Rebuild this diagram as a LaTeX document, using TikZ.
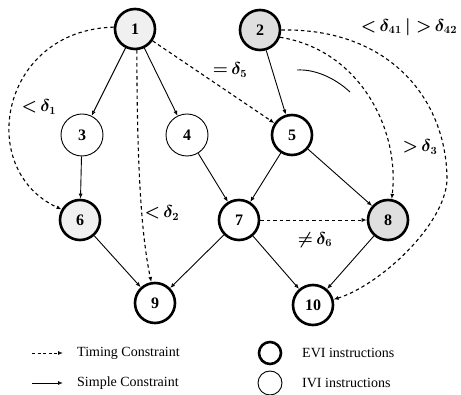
\documentclass[tikz,border=0pt]{standalone}
\usepackage{fontspec}
\setmainfont{Liberation Serif}
\usetikzlibrary{arrows.meta}
\begin{document}
\begin{tikzpicture}[x=1pt,y=-1pt,
  tip/.tip={Latex[open,length=5pt,width=4pt]},
  evi/.style={circle,draw,line width=2.6pt,minimum size=40pt,inner sep=0pt,font=\fontsize{16}{18}\selectfont\bfseries},
  ivi/.style={circle,draw,line width=0.9pt,minimum size=42pt,inner sep=0pt,font=\fontsize{16}{18}\selectfont\bfseries},
  sc/.style={-tip,line width=0.9pt},
  tc/.style={-tip,line width=1.1pt,dash pattern=on 3.5pt off 3pt},
  lbl/.style={font=\fontsize{16}{18}\selectfont\boldmath,inner sep=1pt},
  leg/.style={font=\fontsize{14}{16}\selectfont,anchor=west,inner sep=0pt}]
\useasboundingbox (0,0) rectangle (461,395);
% nodes
\node[evi,fill=gray!12] (n1) at (135,29) {1};
\node[evi,fill=gray!25] (n2) at (260,30) {2};
\node[ivi] (n3) at (82,135) {3};
\node[ivi] (n4) at (187,135) {4};
\node[evi] (n5) at (292,135) {5};
\node[evi,fill=gray!12] (n6) at (80,220) {6};
\node[evi] (n7) at (239,220) {7};
\node[evi,fill=gray!25] (n8) at (388,220) {8};
\node[evi] (n9) at (155,303) {9};
\node[evi] (n10) at (313,305) {10};
% simple constraints
\draw[sc] (n1) -- (n3);
\draw[sc] (n1) -- (n4);
\draw[sc] (n3) -- (n6);
\draw[sc] (n4) -- (n7);
\draw[sc] (n2) -- (n5);
\draw[sc] (n5) -- (n7);
\draw[sc] (n5) -- (n8);
\draw[sc] (n6) -- (n9);
\draw[sc] (n7) -- (n9);
\draw[sc] (n7) -- (n10);
\draw[sc] (n8) -- (n10);
% timing constraints
\draw[tc] (n1.175) .. controls (0,30) and (-25,170) .. (n6.150);
\draw[tc] (n1.275) .. controls (137,150) and (140,230) .. (n9.100);
\draw[tc] (n1) -- (n5);
\draw[tc,line width=0.9pt] (n7) -- (n8);
\draw[tc] (n2.340) .. controls (360,50) and (400,130) .. (n8.80);
\coordinate (c41) at (447,180);
\draw[tc] (n2.east) .. controls (390,28) and (447,100) .. (c41)
  .. controls (445,225) and (380,285) .. (n10.15);
% stray arc
\coordinate (a0) at (297,70);
\coordinate (a1) at (350,92);
\draw[line width=0.9pt] (a0) .. controls (315,69) and (335,78) .. (a1);
% labels
\node[lbl] (l1) at (39,107) {${<}\,\delta_1$};
\node[lbl] (l2) at (162,213) {${<}\,\delta_2$};
\node[lbl] (l3) at (420,147) {${>}\,\delta_3$};
\node[lbl] (l4) at (409,27) {${<}\,\delta_{41}\,|\;{>}\,\delta_{42}$};
\node[lbl] (l5) at (230,70) {${=}\,\delta_5$};
\node[lbl] (l6) at (315,240) {${\neq}\,\delta_6$};
% legend
\coordinate (t0) at (32,353); \coordinate (t1) at (63,353);
\coordinate (s0) at (32,383); \coordinate (s1) at (63,383);
\draw[tc,line width=0.9pt,dash pattern=on 3pt off 2.5pt] (t0) -- (t1);
\draw[sc] (s0) -- (s1);
\node[leg] (lt) at (77,353) {Timing Constraint};
\node[leg] (ls) at (77,383) {Simple Constraint};
\node[circle,draw,line width=2.6pt,minimum size=22pt,inner sep=0pt] (ce) at (270,353) {};
\node[circle,draw,line width=0.9pt,minimum size=24pt,inner sep=0pt] (ci) at (270,383) {};
\node[leg] (le) at (302,353) {EVI instructions};
\node[leg] (li) at (302,383) {IVI instructions};
\end{tikzpicture}
\end{document}
